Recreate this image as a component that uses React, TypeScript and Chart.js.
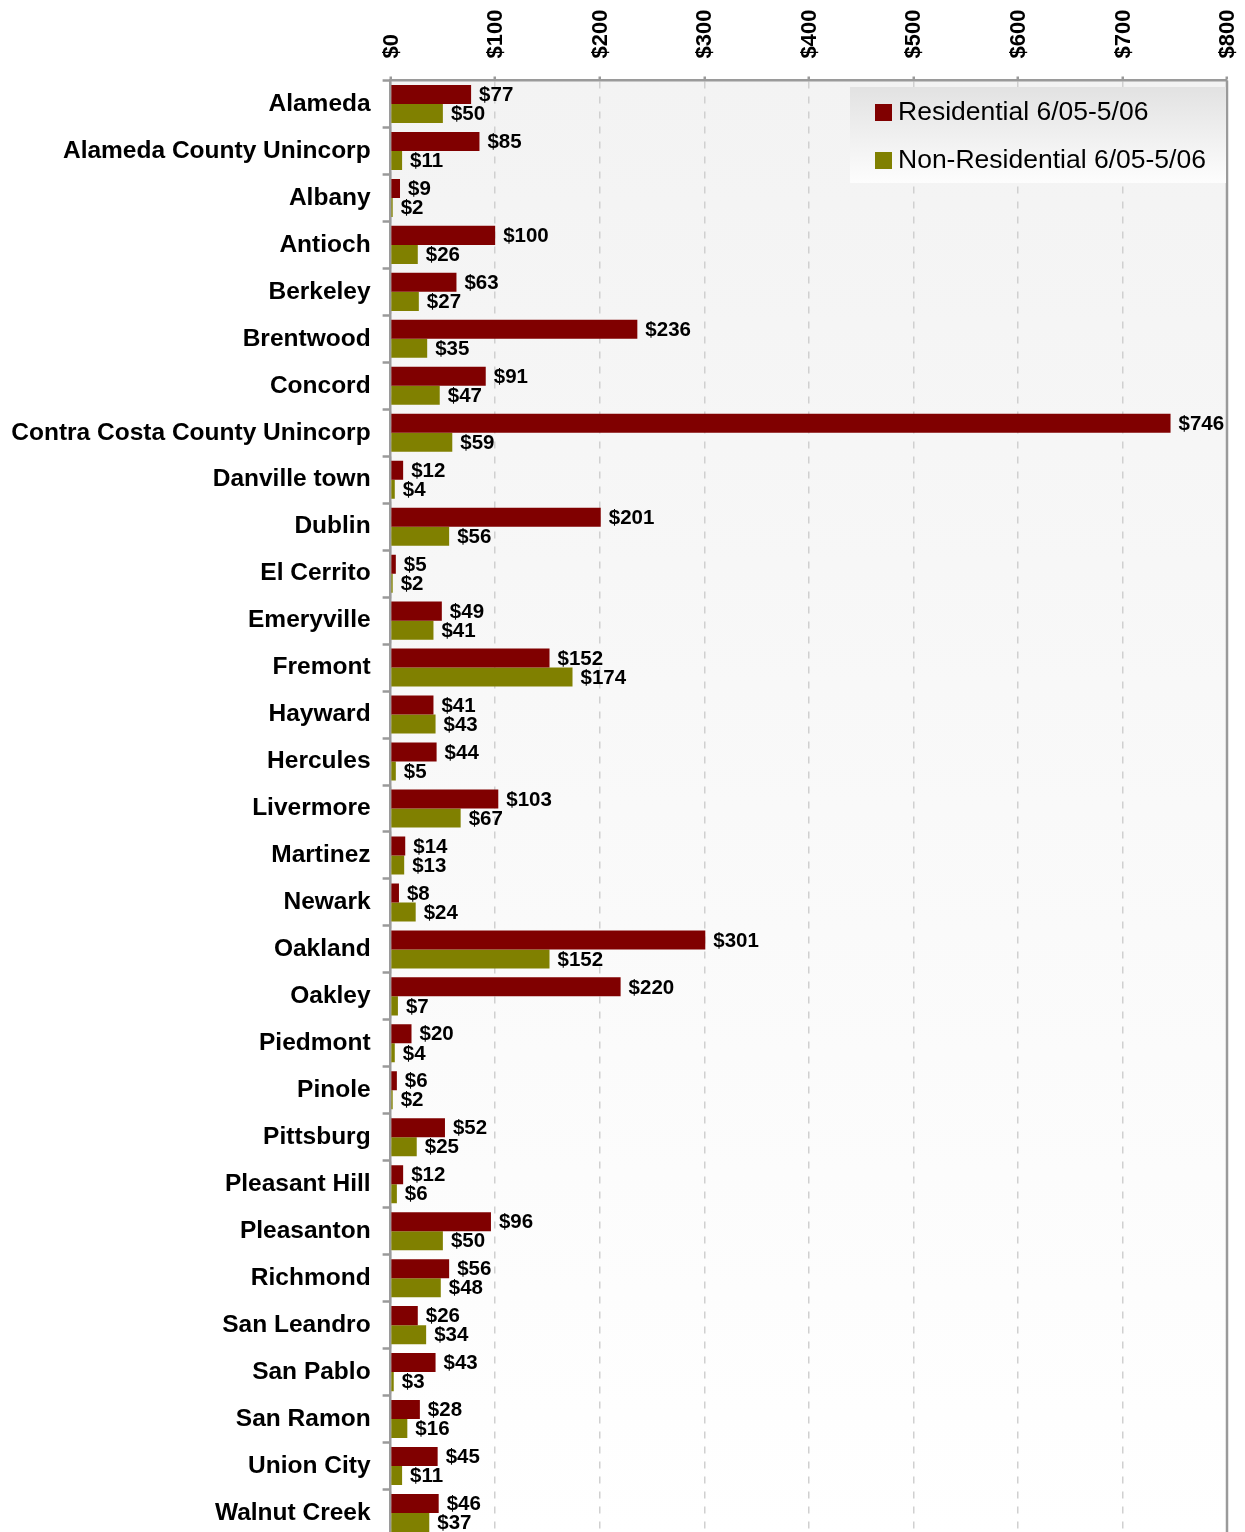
import React, { useEffect, useRef } from 'react';
import { Chart, registerables } from 'chart.js';

Chart.register(...registerables);

const categories = [
  'Alameda', 'Alameda County Unincorp', 'Albany', 'Antioch', 'Berkeley', 'Brentwood', 'Concord',
  'Contra Costa County Unincorp', 'Danville town', 'Dublin', 'El Cerrito', 'Emeryville', 'Fremont',
  'Hayward', 'Hercules', 'Livermore', 'Martinez', 'Newark', 'Oakland', 'Oakley', 'Piedmont', 'Pinole',
  'Pittsburg', 'Pleasant Hill', 'Pleasanton', 'Richmond', 'San Leandro', 'San Pablo', 'San Ramon',
  'Union City', 'Walnut Creek',
];

const residential = [
  77, 85, 9, 100, 63, 236, 91, 746, 12, 201, 5, 49, 152, 41, 44, 103, 14, 8, 301, 220, 20, 6, 52, 12, 96,
  56, 26, 43, 28, 45, 46,
];

const nonResidential = [
  50, 11, 2, 26, 27, 35, 47, 59, 4, 56, 2, 41, 174, 43, 5, 67, 13, 24, 152, 7, 4, 2, 25, 6, 50, 48, 34, 3,
  16, 11, 37,
];

const xTicks = [0, 100, 200, 300, 400, 500, 600, 700, 800];
const seriesNames = ['Residential 6/05-5/06', 'Non-Residential 6/05-5/06'];
const seriesColors = ['#800000', '#808000'];

const FONT = "'Liberation Sans', Arial, Helvetica, sans-serif";
const AXIS_GRAY = '#9a9a9a';

const backgroundPlugin = {
  id: 'plotBackground',
  beforeDraw(chart: any) {
    const { ctx, chartArea } = chart;
    const g = ctx.createLinearGradient(0, chartArea.top, 0, chartArea.bottom);
    g.addColorStop(0, '#f3f3f3');
    g.addColorStop(1, '#ffffff');
    ctx.save();
    ctx.fillStyle = g;
    ctx.fillRect(chartArea.left, chartArea.top, chartArea.right - chartArea.left, chartArea.bottom - chartArea.top);
    ctx.restore();
  },
};

const overlayPlugin = {
  id: 'overlay',
  afterDatasetsDraw(chart: any) {
    const { ctx, chartArea } = chart;
    ctx.save();
    // data labels
    ctx.font = `bold 20.5px ${FONT}`;
    ctx.fillStyle = '#000';
    ctx.textAlign = 'left';
    ctx.textBaseline = 'middle';
    chart.data.datasets.forEach((ds: any, di: number) => {
      const meta = chart.getDatasetMeta(di);
      meta.data.forEach((bar: any, i: number) => {
        ctx.fillText('$' + ds.data[i], bar.x + 8, bar.y + 1);
      });
    });
    // right border
    ctx.strokeStyle = AXIS_GRAY;
    ctx.lineWidth = 2.5;
    ctx.beginPath();
    ctx.moveTo(chartArea.right, chartArea.top);
    ctx.lineTo(chartArea.right, chartArea.bottom);
    ctx.stroke();

    // x tick labels (rotated, reading upwards)
    const xs = chart.scales.x;
    ctx.font = `bold 22px ${FONT}`;
    ctx.fillStyle = '#000';
    ctx.textAlign = 'left';
    ctx.textBaseline = 'middle';
    xTicks.forEach((v) => {
      const px = xs.getPixelForValue(v);
      ctx.save();
      ctx.translate(px + 1, chartArea.top - 22);
      ctx.rotate(-Math.PI / 2);
      ctx.fillText('$' + v, 0, 0);
      ctx.restore();
    });

    // legend
    const lx = 850;
    const ly = 87;
    const lw = chartArea.right - 1 - lx;
    const lh = 96;
    const g = ctx.createLinearGradient(0, ly, 0, ly + lh);
    g.addColorStop(0, '#e2e2e2');
    g.addColorStop(1, '#fdfdfd');
    ctx.fillStyle = g;
    ctx.fillRect(lx, ly, lw, lh);
    ctx.font = `26.5px ${FONT}`;
    ctx.textBaseline = 'middle';
    seriesNames.forEach((name, i) => {
      const cy = 112 + i * 48;
      ctx.fillStyle = seriesColors[i];
      ctx.fillRect(875, cy - 8, 17, 17);
      ctx.fillStyle = '#000';
      ctx.fillText(name, 898, cy + 1);
    });
    ctx.restore();
  },
};

export default function App() {
  const ref = useRef<HTMLCanvasElement>(null);

  useEffect(() => {
    if (!ref.current) return;
    const chart = new Chart(ref.current, {
      type: 'bar',
      data: {
        labels: categories,
        datasets: [
          {
            label: seriesNames[0],
            data: residential,
            backgroundColor: seriesColors[0],
            categoryPercentage: 0.81,
            barPercentage: 1,
          },
          {
            label: seriesNames[1],
            data: nonResidential,
            backgroundColor: seriesColors[1],
            categoryPercentage: 0.81,
            barPercentage: 1,
          },
        ],
      },
      options: {
        indexAxis: 'y',
        responsive: false,
        maintainAspectRatio: false,
        animation: false,
        devicePixelRatio: 1,
        layout: { padding: { left: 0, top: 0, right: 18, bottom: 8.5 } },
        plugins: {
          legend: { display: false },
          tooltip: { enabled: false },
        },
        scales: {
          x: {
            position: 'top',
            min: 0,
            max: 800,
            afterBuildTicks: (s: any) => {
              s.ticks = xTicks.map((v) => ({ value: v }));
            },
            afterFit: (s: any) => {
              s.height = 80.5;
              s.paddingLeft = 0;
              s.paddingRight = 0;
            },
            ticks: {
              display: false,
            },
            grid: {
              color: '#d0d0d0',
              lineWidth: 1.5,
              tickLength: 4,
              tickColor: AXIS_GRAY,
              tickWidth: 2.5,
            },
            border: { color: AXIS_GRAY, width: 2.5, dash: [7, 8] },
          },
          y: {
            afterFit: (s: any) => {
              s.width = 390.6;
              s.paddingTop = 0;
              s.paddingBottom = 0;
            },
            ticks: {
              autoSkip: false,
              padding: 12,
              color: '#000',
              font: { family: FONT, size: 24.5, weight: 'bold' },
            },
            grid: {
              drawOnChartArea: false,
              tickLength: 8,
              tickColor: AXIS_GRAY,
              tickWidth: 2.5,
            },
            border: { color: AXIS_GRAY, width: 2.5 },
          },
        },
      } as any,
      plugins: [backgroundPlugin, overlayPlugin],
    });
    return () => chart.destroy();
  }, []);

  return (
    <div
      style={{
        position: 'absolute',
        left: 0,
        top: 0,
        width: 1245,
        height: 1532,
        overflow: 'hidden',
        background: '#fff',
      }}
    >
      <canvas ref={ref} width={1245} height={1545} style={{ width: 1245, height: 1545, display: 'block' }} />
    </div>
  );
}
